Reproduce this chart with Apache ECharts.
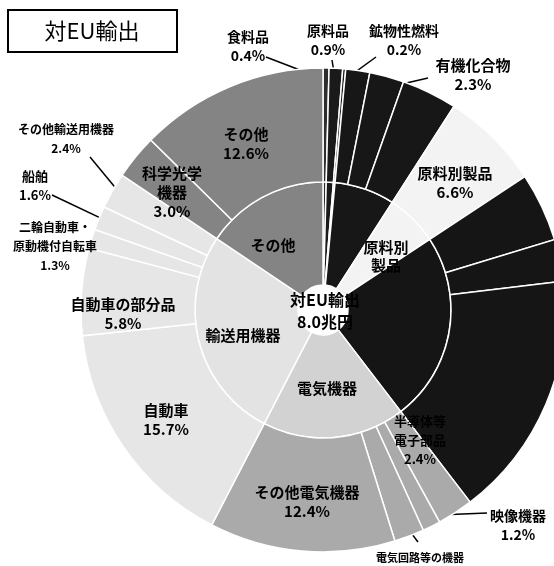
<!DOCTYPE html>
<html>
<head>
<meta charset="utf-8">
<style>
  html, body { margin: 0; padding: 0; background: #fff; }
  #chart { width: 554px; height: 566px; }
</style>
<script src="https://cdn.jsdelivr.net/npm/echarts@6/dist/echarts.min.js"></script>
</head>
<body>
<div id="chart"></div>
<script>
// 内側の輪: 概況品の大分類 (%)
const groups = ['食料品', '原料品', '鉱物性燃料', '化学製品', '原料別製品', '一般機械', '電気機器', '輸送用機器', 'その他']
const groupShares = [0.4, 0.9, 0.2, 7.6, 6.6, 23.9, 18.0, 26.8, 15.6]

// 外側の輪: 品目 (%), '' は図中に名前の出ていない品目
const items = ['食料品', '原料品', '鉱物性燃料', '', '有機化合物', '', '原料別製品', '', '', '',
  '半導体等電子部品', '映像機器', '電気回路等の機器', 'その他電気機器',
  '自動車', '自動車の部分品', '二輪自動車・原動機付自転車', '船舶', 'その他輸送用機器',
  '科学光学機器', 'その他']
const itemShares = [0.4, 0.9, 0.2, 1.6, 2.3, 3.7, 6.6, 4.6, 2.8, 16.5,
  2.4, 1.2, 2.0, 12.4,
  15.7, 5.8, 1.3, 1.6, 2.4,
  3.0, 12.6]
const itemGroups = [0, 1, 2, 3, 3, 3, 4, 5, 5, 5, 6, 6, 6, 6, 7, 7, 7, 7, 7, 8, 8]

const totalText = '対EU輸出\n8.0兆円'

// 見た目
const FONT = '"Noto Sans CJK JP", "Noto Sans", sans-serif'
const CENTER = [323, 310]
const innerColors = ['#2e2e2e', '#1a1a1a', '#202020', '#171717', '#f3f3f3', '#151515', '#d2d2d2', '#e3e3e3', '#848484']
const outerColors = ['#2e2e2e', '#1a1a1a', '#202020', '#171717', '#f3f3f3', '#151515', '#aaaaaa', '#e6e6e6', '#848484']

const innerText = { '原料別製品': '原料別\n製品' }
const innerSpots = {
  '輸送用機器': [243, 335],
  '電気機器': [327, 388],
  'その他': [273, 245],
  '原料別製品': [386, 256]
}

const outerText = {
  '半導体等電子部品': '半導体等\n電子部品',
  '二輪自動車・原動機付自転車': '二輪自動車・\n原動機付自転車',
  '科学光学機器': '科学光学\n機器'
}
const outerSpots = {
  '食料品': { at: [248, 46], end: [266, 57], size: 14 },
  '原料品': { at: [328, 40], end: [332, 60], size: 14 },
  '鉱物性燃料': { at: [404, 40], end: [376, 57], size: 14 },
  '有機化合物': { at: [473, 75], end: [428, 78] },
  '原料別製品': { at: [455, 183] },
  '半導体等電子部品': { at: [420, 440], size: 13 },
  '映像機器': { at: [518, 525], end: [487, 513], size: 14 },
  '電気回路等の機器': { at: [420, 567], end: [418, 542], size: 11 },
  'その他電気機器': { at: [307, 502] },
  '自動車': { at: [166, 420] },
  '自動車の部分品': { at: [123, 314] },
  '二輪自動車・原動機付自転車': { at: [55, 246], size: 12 },
  '船舶': { at: [35, 186], end: [52, 195], size: 13 },
  'その他輸送用機器': { at: [66, 139], end: [90, 157], size: 12 },
  '科学光学機器': { at: [172, 192] },
  'その他': { at: [246, 144] }
}

const innerData = groups.map((name, i) => ({
  name: name,
  value: groupShares[i],
  itemStyle: { color: innerColors[i] },
  label: { show: !!innerSpots[name] }
}))

const outerData = items.map((name, i) => {
  const spot = outerSpots[name]
  return {
    name: name,
    value: itemShares[i],
    itemStyle: { color: outerColors[itemGroups[i]] },
    label: {
      show: !!spot,
      position: spot && spot.end ? 'outside' : 'inside',
      fontSize: (spot && spot.size) || 15
    },
    labelLine: { show: !!(spot && spot.end) }
  }
})

// 引出線の根元を少し扇形の内側へ寄せる
function pullIn (pt, px) {
  const dx = pt[0] - CENTER[0]
  const dy = pt[1] - CENTER[1]
  const r = Math.sqrt(dx * dx + dy * dy)
  const k = (r - px) / r
  return [CENTER[0] + dx * k, CENTER[1] + dy * k]
}

const chart = echarts.init(document.getElementById('chart'), null, { renderer: 'canvas' })

chart.setOption({
  backgroundColor: '#fff',
  animation: false,
  textStyle: { fontFamily: FONT },
  graphic: [
    {
      type: 'rect',
      shape: { x: 8, y: 10, width: 169, height: 42 },
      style: { fill: '#fff', stroke: '#000', lineWidth: 2 }
    },
    {
      type: 'text',
      style: {
        text: '対EU輸出',
        x: 92,
        y: 31,
        align: 'center',
        verticalAlign: 'middle',
        fontSize: 22,
        fontFamily: FONT,
        fill: '#000'
      }
    },
    {
      type: 'text',
      z: 100,
      style: {
        text: totalText,
        x: CENTER[0] + 2,
        y: CENTER[1] + 1,
        align: 'center',
        verticalAlign: 'middle',
        fontSize: 16,
        fontWeight: 'bold',
        lineHeight: 22,
        fontFamily: FONT,
        fill: '#000'
      }
    }
  ],
  series: [
    {
      type: 'pie',
      center: CENTER,
      radius: [25, 128],
      startAngle: 90,
      clockwise: true,
      avoidLabelOverlap: false,
      itemStyle: { borderColor: '#fff', borderWidth: 1.5 },
      label: {
        position: 'inside',
        color: '#000',
        fontSize: 15,
        fontWeight: 'bold',
        fontFamily: FONT,
        lineHeight: 18,
        formatter: p => innerText[p.name] || p.name
      },
      labelLayout: p => {
        const spot = innerSpots[groups[p.dataIndex]]
        if (!spot) return {}
        return { x: spot[0], y: spot[1], align: 'center', verticalAlign: 'middle' }
      },
      emphasis: { disabled: true },
      data: innerData
    },
    {
      type: 'pie',
      center: CENTER,
      radius: [128, 242],
      startAngle: 90,
      clockwise: true,
      avoidLabelOverlap: false,
      itemStyle: { borderColor: '#fff', borderWidth: 1.5 },
      label: {
        color: '#000',
        fontWeight: 'bold',
        fontFamily: FONT,
        lineHeight: 19,
        formatter: p => (outerText[p.name] || p.name) + '\n' + p.value.toFixed(1) + '%'
      },
      labelLine: {
        length: 8,
        length2: 8,
        lineStyle: { color: '#000', width: 1.5 }
      },
      labelLayout: p => {
        const spot = outerSpots[items[p.dataIndex]]
        if (!spot) return {}
        const out = { x: spot.at[0], y: spot.at[1], align: 'center', verticalAlign: 'middle' }
        if (spot.end && p.labelLinePoints) {
          const a = pullIn(p.labelLinePoints[0], 12)
          out.labelLinePoints = [a, spot.end, spot.end]
        }
        return out
      },
      emphasis: { disabled: true },
      data: outerData
    }
  ]
})
</script>
</body>
</html>
